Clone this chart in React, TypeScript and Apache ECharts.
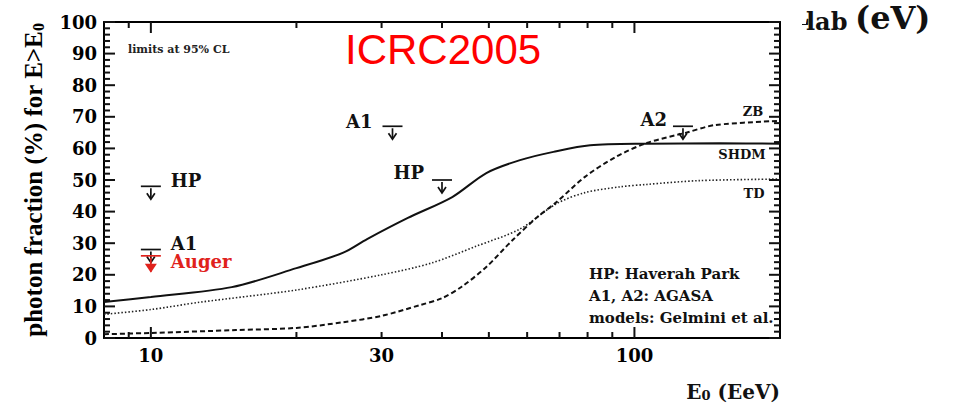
import React, { useEffect, useRef } from "react";
import * as echarts from "echarts";

// Model predictions: photon fraction (%) above threshold energy E0 (EeV)
const shdmEnergy = [8, 10, 14.7, 20, 25, 28, 34, 42, 49.4, 58, 68, 81, 106, 150, 200];
const shdmFraction = [11.4, 13, 16.1, 22.1, 27, 31.3, 38, 44.6, 52.2, 56.3, 58.9, 61, 61.5, 61.6, 61.5];

const tdEnergy = [8, 10, 12.6, 20, 30, 38, 47, 58, 69, 79, 93, 106, 136, 200];
const tdFraction = [7.5, 9, 11.3, 15.2, 20, 23.7, 29, 34.5, 42.5, 46, 47.8, 48.6, 49.8, 50.3];

const zbEnergy = [8, 10, 15, 20, 25, 30, 36, 40, 44, 49.4, 56, 63, 69, 79, 91.5, 106, 128, 147, 200];
const zbFraction = [1.2, 1.6, 2.5, 3.2, 5, 7, 10.4, 12.6, 16.3, 22.5, 31, 38.3, 43, 51, 57.3, 61.7, 65, 67.4, 68.7];

// Upper limits at 95% CL
const limitLabels = ["HP", "A1", "Auger", "A1", "HP", "A2"];
const limitEnergy = [10, 10, 10, 31.6, 40, 126];
const limitFraction = [48, 28, 26, 67, 50, 67];

// Axis ticks and labels (energies in EeV, fractions in %)
const xMajorTicks = [10, 100];
const xMinorTicks = [9, 20, 30, 40, 50, 60, 70, 80, 90];
const xTickLabels = [10, 30, 100];
const xRange = [8, 200];
const yMajorTicks = [0, 10, 20, 30, 40, 50, 60, 70, 80, 90, 100];
const yMinorSteps = [2, 4, 6, 8];
const yRange = [0, 100];
const yStep = 10;

// Marker styling for the limits
const limitColors = ["#111", "#111", "#e0221c", "#111", "#111", "#111"];
const limitArrowLength = [13, 13, 17, 13, 13, 13];
const limitHeadFilled = [false, false, true, false, false, false];
const limitLabelPlacement = [
  { side: "right", dx: 20, dy: -6 },
  { side: "right", dx: 20, dy: -6 },
  { side: "right", dx: 20, dy: 6 },
  { side: "left", dx: -20, dy: -5 },
  { side: "left", dx: -18, dy: -8 },
  { side: "left", dx: -16, dy: -7 },
];

const WIDE_SERIF = '"DejaVu Serif", serif';
const SERIF = '"Liberation Serif", "Times New Roman", serif';
const TICK_COLOR = "#111";
const MAJOR_LEN = 11;
const MINOR_LEN = 6;
const TICK_W = 2;

const lg = (v: number) => Math.log10(v);

function curve(energy: number[], fraction: number[]) {
  return energy.map((e, i) => [lg(e), fraction[i]]);
}

function curveLabel(energy: number[], fraction: number[], text: string, offset: number[]) {
  const n = energy.length - 1;
  return {
    symbol: "circle",
    symbolSize: 1,
    itemStyle: { color: "rgba(0,0,0,0)" },
    silent: true,
    data: [
      {
        coord: [lg(energy[n]), fraction[n]],
        label: {
          show: true,
          position: "inside",
          formatter: text,
          offset,
          color: "#111",
          fontFamily: WIDE_SERIF,
          fontWeight: "bold",
          fontSize: 13,
        },
      },
    ],
  };
}

function fractionAxis(position: "left" | "right") {
  const left = position === "left";
  return {
    type: "value",
    position,
    min: yRange[0],
    max: yRange[1],
    interval: yStep,
    axisLine: { show: true, lineStyle: { color: "#000", width: 2 } },
    axisTick: { show: false },
    axisLabel: left
      ? { show: true, color: "#000", fontFamily: WIDE_SERIF, fontWeight: "bold", fontSize: 18, margin: 7 }
      : { show: false },
    splitLine: { show: false },
    ...(left
      ? {
          name: "photon fraction (%) for E>E{sub|0}",
          nameLocation: "middle",
          nameRotate: 90,
          nameGap: 58,
          nameTextStyle: {
            color: "#000",
            fontFamily: SERIF,
            fontWeight: "bold",
            fontSize: 25,
            rich: {
              sub: { fontFamily: SERIF, fontWeight: "bold", fontSize: 16, verticalAlign: "bottom", lineHeight: 8 },
            },
          },
        }
      : {}),
  };
}

function energyAxis(position: "bottom" | "top") {
  const bottom = position === "bottom";
  return {
    type: "value",
    position,
    min: lg(xRange[0]),
    max: lg(xRange[1]),
    axisLine: { show: true, onZero: false, lineStyle: { color: "#000", width: 2 } },
    axisTick: { show: false },
    axisLabel: bottom
      ? {
          show: true,
          customValues: xTickLabels.map(lg),
          formatter: (v: number) => String(Math.round(Math.pow(10, v))),
          color: "#000",
          fontFamily: WIDE_SERIF,
          fontWeight: "bold",
          fontSize: 18,
          margin: 8,
        }
      : { show: false },
    splitLine: { show: false },
  };
}

function textGraphics(): any[] {
  return [
    {
      id: "icrc",
      type: "text",
      x: 345,
      y: 49,
      style: { text: "ICRC2005", fill: "#ff0000", font: '42px "Liberation Sans", Arial, sans-serif', align: "left", verticalAlign: "middle" },
    },
    {
      id: "cl",
      type: "text",
      x: 128,
      y: 49,
      style: { text: "limits at 95% CL", fill: "#222", font: `bold 11px ${WIDE_SERIF}`, align: "left", verticalAlign: "middle" },
    },
    {
      id: "key1",
      type: "text",
      x: 589,
      y: 274,
      style: { text: "HP: Haverah Park", fill: "#111", font: `bold 15px ${WIDE_SERIF}`, align: "left", verticalAlign: "middle" },
    },
    {
      id: "key2",
      type: "text",
      x: 589,
      y: 296,
      style: { text: "A1, A2: AGASA", fill: "#111", font: `bold 15px ${WIDE_SERIF}`, align: "left", verticalAlign: "middle" },
    },
    {
      id: "key3",
      type: "text",
      x: 589,
      y: 318,
      style: { text: "models: Gelmini et al.", fill: "#111", font: `bold 15px ${WIDE_SERIF}`, align: "left", verticalAlign: "middle" },
    },
    {
      id: "xname",
      type: "text",
      x: 780,
      y: 392,
      style: {
        text: "E{sub|0} (EeV)",
        fill: "#111",
        font: `bold 20px ${WIDE_SERIF}`,
        align: "right",
        verticalAlign: "middle",
        rich: {
          sub: { fontFamily: WIDE_SERIF, fontWeight: "bold", fontSize: 13, verticalAlign: "bottom", lineHeight: 6 },
        },
      },
    },
    // Axis caption on the right edge, its first letter partly covered
    {
      id: "capE",
      type: "text",
      x: 810,
      y: 30,
      style: { text: "E", fill: "#111", font: `bold 33px ${SERIF}`, align: "right", verticalAlign: "bottom" },
    },
    { id: "capMask1", type: "rect", shape: { x: 784, y: 0, width: 22, height: 24 }, style: { fill: "#fff" } },
    { id: "capMask2", type: "rect", shape: { x: 784, y: 24, width: 18, height: 16 }, style: { fill: "#fff" } },
    { id: "capMask3", type: "rect", shape: { x: 784, y: 0, width: 30, height: 12 }, style: { fill: "#fff" } },
    {
      id: "capLab",
      type: "text",
      x: 806,
      y: 21,
      style: { text: "lab", fill: "#111", font: `bold 24px ${WIDE_SERIF}`, align: "left", verticalAlign: "middle" },
    },
    {
      id: "capUnit",
      type: "text",
      x: 855,
      y: 18,
      style: { text: "(eV)", fill: "#111", font: `bold 32px ${WIDE_SERIF}`, align: "left", verticalAlign: "middle" },
    },
  ];
}

// Frame tick marks, placed through the chart's own coordinate conversion
function tickGraphics(chart: echarts.ECharts): any[] {
  const toPx = (x: number, y: number) =>
    chart.convertToPixel({ xAxisIndex: 0, yAxisIndex: 0 }, [x, y]) as number[];
  const xMin = lg(xRange[0]);
  const xMax = lg(xRange[1]);
  const out: any[] = [];
  let n = 0;
  const rect = (x: number, y: number, w: number, h: number) =>
    out.push({
      id: `tick${n++}`,
      type: "rect",
      z: 100,
      shape: { x, y, width: w, height: h },
      style: { fill: TICK_COLOR },
      silent: true,
    });
  const xTick = (e: number, len: number) => {
    const b = toPx(lg(e), yRange[0]);
    const t = toPx(lg(e), yRange[1]);
    rect(b[0] - TICK_W / 2, b[1] - len, TICK_W, len);
    rect(t[0] - TICK_W / 2, t[1], TICK_W, len);
  };
  const yTick = (v: number, len: number) => {
    const l = toPx(xMin, v);
    const r = toPx(xMax, v);
    rect(l[0], l[1] - TICK_W / 2, len, TICK_W);
    rect(r[0] - len, r[1] - TICK_W / 2, len, TICK_W);
  };
  xMajorTicks.forEach((e) => xTick(e, MAJOR_LEN));
  xMinorTicks.forEach((e) => xTick(e, MINOR_LEN));
  yMajorTicks.forEach((v) => {
    yTick(v, MAJOR_LEN);
    if (v < yRange[1]) yMinorSteps.forEach((s) => yTick(v + s, MINOR_LEN));
  });
  return out;
}

function buildOption() {
  const limitData = limitEnergy.map((e, i) => [lg(e), limitFraction[i]]);
  return {
    animation: false,
    grid: { left: 104, right: 176, top: 22, bottom: 65 },
    xAxis: [energyAxis("bottom"), energyAxis("top")],
    yAxis: [fractionAxis("left"), fractionAxis("right")],
    series: [
      {
        name: "SHDM",
        type: "line",
        data: curve(shdmEnergy, shdmFraction),
        showSymbol: false,
        smooth: 0.3,
        lineStyle: { color: "#111", width: 2 },
        markPoint: curveLabel(shdmEnergy, shdmFraction, "SHDM", [-38, 11]),
      },
      {
        name: "TD",
        type: "line",
        data: curve(tdEnergy, tdFraction),
        showSymbol: false,
        smooth: 0.3,
        lineStyle: { color: "#222", width: 1.6, type: [1.5, 2] },
        markPoint: curveLabel(tdEnergy, tdFraction, "TD", [-26, 14]),
      },
      {
        name: "ZB",
        type: "line",
        data: curve(zbEnergy, zbFraction),
        showSymbol: false,
        smooth: 0.3,
        lineStyle: { color: "#111", width: 2, type: [5, 3] },
        markPoint: curveLabel(zbEnergy, zbFraction, "ZB", [-27, -9]),
      },
      {
        name: "limits",
        type: "custom",
        data: limitData,
        z: 5,
        renderItem: (params: any, api: any) => {
          const i = params.dataIndex;
          const p = api.coord([api.value(0), api.value(1)]);
          const cx = p[0];
          const cy = p[1];
          const color = limitColors[i];
          const len = limitArrowLength[i];
          const place = limitLabelPlacement[i];
          const stroke = { stroke: color, lineWidth: 1.7, fill: "none" };
          const head = limitHeadFilled[i]
            ? {
                type: "polygon",
                shape: { points: [[cx - 6, cy + len - 9], [cx, cy + len], [cx + 6, cy + len - 9]] },
                style: { fill: color },
              }
            : {
                type: "polyline",
                shape: { points: [[cx - 4, cy + len - 6], [cx, cy + len], [cx + 4, cy + len - 6]] },
                style: stroke,
              };
          return {
            type: "group",
            children: [
              { type: "line", shape: { x1: cx - 10, y1: cy, x2: cx + 10, y2: cy }, style: stroke },
              { type: "line", shape: { x1: cx, y1: cy + 2, x2: cx, y2: cy + len - 1 }, style: stroke },
              head,
              {
                type: "text",
                x: cx + place.dx,
                y: cy + place.dy,
                style: {
                  text: limitLabels[i],
                  fill: color,
                  font: `bold 18px ${WIDE_SERIF}`,
                  align: place.side === "right" ? "left" : "right",
                  verticalAlign: "middle",
                },
              },
            ],
          };
        },
      },
    ],
    graphic: textGraphics(),
  };
}

export default function App() {
  const ref = useRef<HTMLDivElement>(null);
  useEffect(() => {
    if (!ref.current) return;
    const chart = echarts.init(ref.current, null, { renderer: "svg" });
    chart.setOption(buildOption() as any);
    chart.setOption({ graphic: [...textGraphics(), ...tickGraphics(chart)] } as any);
    return () => chart.dispose();
  }, []);
  return (
    <div
      ref={ref}
      style={{ position: "fixed", left: 0, top: 0, width: 956, height: 403, background: "#fff" }}
    />
  );
}
